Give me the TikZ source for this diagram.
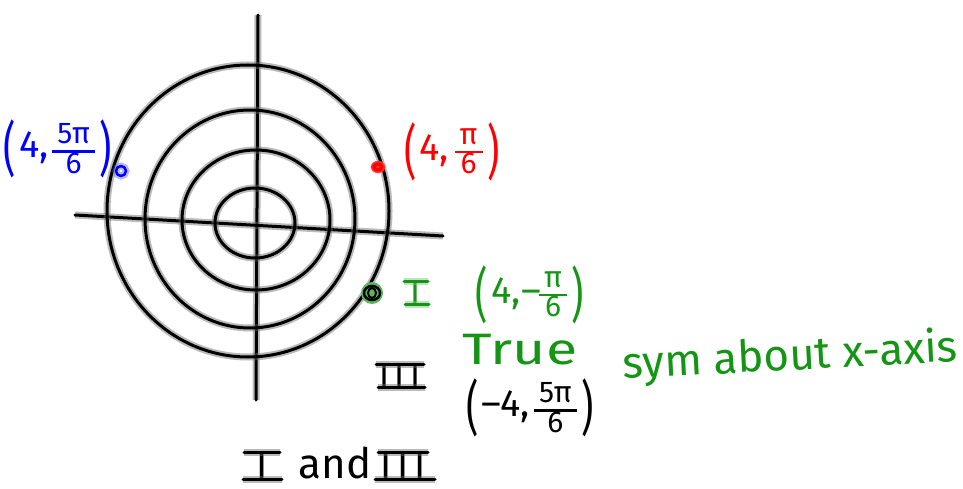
\documentclass[tikz,border=0pt]{standalone}
\usepackage{fontspec}
\usepackage{graphicx}
\setmainfont{Fira Sans}
\definecolor{inkred}{RGB}{255,0,0}
\definecolor{inkblue}{RGB}{0,0,255}
\definecolor{inkgreen}{RGB}{20,150,20}
\setlength\arrayrulewidth{2.5pt}
\newcommand\hfr[2]{{\fontsize{30}{26}\selectfont\renewcommand\arraystretch{0.85}%
  \begin{tabular}[c]{@{\,}c@{\,}}#1\\\hline #2\end{tabular}}}
\newcommand\lp{\raisebox{-12pt}{\scalebox{1}[1.55]{(}}\kern3pt}
\newcommand\rp{\kern5pt\raisebox{-12pt}{\scalebox{1}[1.55]{)}}}
\tikzset{
  ink/.style={draw=#1, line width=3pt, line cap=round, line join=round,
    preaction={draw=#1!60!white, line width=7pt, opacity=0.45}},
  ink/.default=black,
  lbl/.style={text=#1, inner sep=0pt, font=\fontsize{38}{40}\selectfont},
}
\begin{document}
\begin{tikzpicture}[x=1pt,y=-1pt]
\useasboundingbox (0,0) rectangle (963,489);
% axes
\coordinate (vt) at (258,15);
\coordinate (vb) at (256,400);
\coordinate (hl) at (75,215);
\coordinate (hr) at (443,236);
\draw[ink] (vt) -- (vb);
\draw[ink] (hl) -- (hr);
% circles
\coordinate (c1) at (255,223);
\coordinate (c2) at (256,220);
\coordinate (c3) at (250,219);
\coordinate (c4) at (248,211);
\draw[ink] (c1) ellipse [x radius=40, y radius=35];
\draw[ink] (c2) ellipse [x radius=74, y radius=70];
\draw[ink] (c3) ellipse [x radius=105, y radius=109];
\draw[ink] (c4) ellipse [x radius=141, y radius=146];
% points
\coordinate (pr) at (378,167);
\coordinate (pb) at (121,171);
\coordinate (pg) at (372,293);
\fill[inkred] (pr) ellipse [x radius=7, y radius=6];
\draw[ink=inkred] (pr) ellipse [x radius=4, y radius=3];
\draw[ink=inkblue, line width=2.5pt] (pb) circle [radius=5];
\fill[inkgreen!70!white] (pg) circle [radius=11];
\draw[line width=2.5pt] (pg) ellipse [x radius=8, y radius=7];
\draw[line width=2pt] (pg) ellipse [x radius=4, y radius=5];
% labels with fractions
\node[lbl=inkblue] (lb) at (58,150) {\lp4,\kern4pt\hfr{5π}{6}\rp};
\node[lbl=inkred] (lr) at (452,152) {\lp4,\kern6pt\hfr{π}{6}\rp};
\node[lbl=inkgreen] (lg) at (530,295) {\lp4,\kern1pt–\kern-2pt\hfr{π}{6}\rp};
\node[lbl=black] (lk) at (530,409) {\lp–4,\kern4pt\hfr{5π}{6}\rp};
% roman numerals and words
\node[lbl=inkgreen, font=\fontsize{34}{36}\selectfont] (one) at (416,293) {I};
\draw[ink=inkgreen] ([xshift=-12]one.north) -- ([xshift=12]one.north);
\draw[ink=inkgreen] ([xshift=-11]one.south) -- ([xshift=13]one.south);
\node[lbl=inkgreen, font=\fontsize{44}{46}\selectfont] (tr) at (520,350) {\scalebox{1.3}[1]{True}};
\node[lbl=inkgreen, font=\fontsize{44}{46}\selectfont, rotate=3, anchor=base] (sym) at (791,370) {sym about x-axis};
\node[lbl=black, font=\fontsize{34}{36}\selectfont] (three) at (400,376) {I\kern5pt I\kern5pt I};
\draw[ink] ([xshift=-24]three.north) -- ([xshift=24]three.north);
\draw[ink] ([xshift=-22]three.south) -- ([xshift=25]three.south);
\node[lbl=black, font=\fontsize{38}{40}\selectfont] (andI) at (262,466) {I};
\draw[ink] ([xshift=-18]andI.north) -- ([xshift=18]andI.north);
\draw[ink] ([xshift=-19]andI.south) -- ([xshift=20]andI.south);
\node[lbl=black, font=\fontsize{42}{44}\selectfont, anchor=base] (andw) at (335,478) {and};
\node[lbl=black, font=\fontsize{38}{40}\selectfont] (andIII) at (403,466) {I\kern6pt I\kern6pt I};
\draw[ink] ([xshift=-25]andIII.north) -- ([xshift=25]andIII.north);
\draw[ink] ([xshift=-28]andIII.south) -- ([xshift=32]andIII.south);
\end{tikzpicture}
\end{document}
